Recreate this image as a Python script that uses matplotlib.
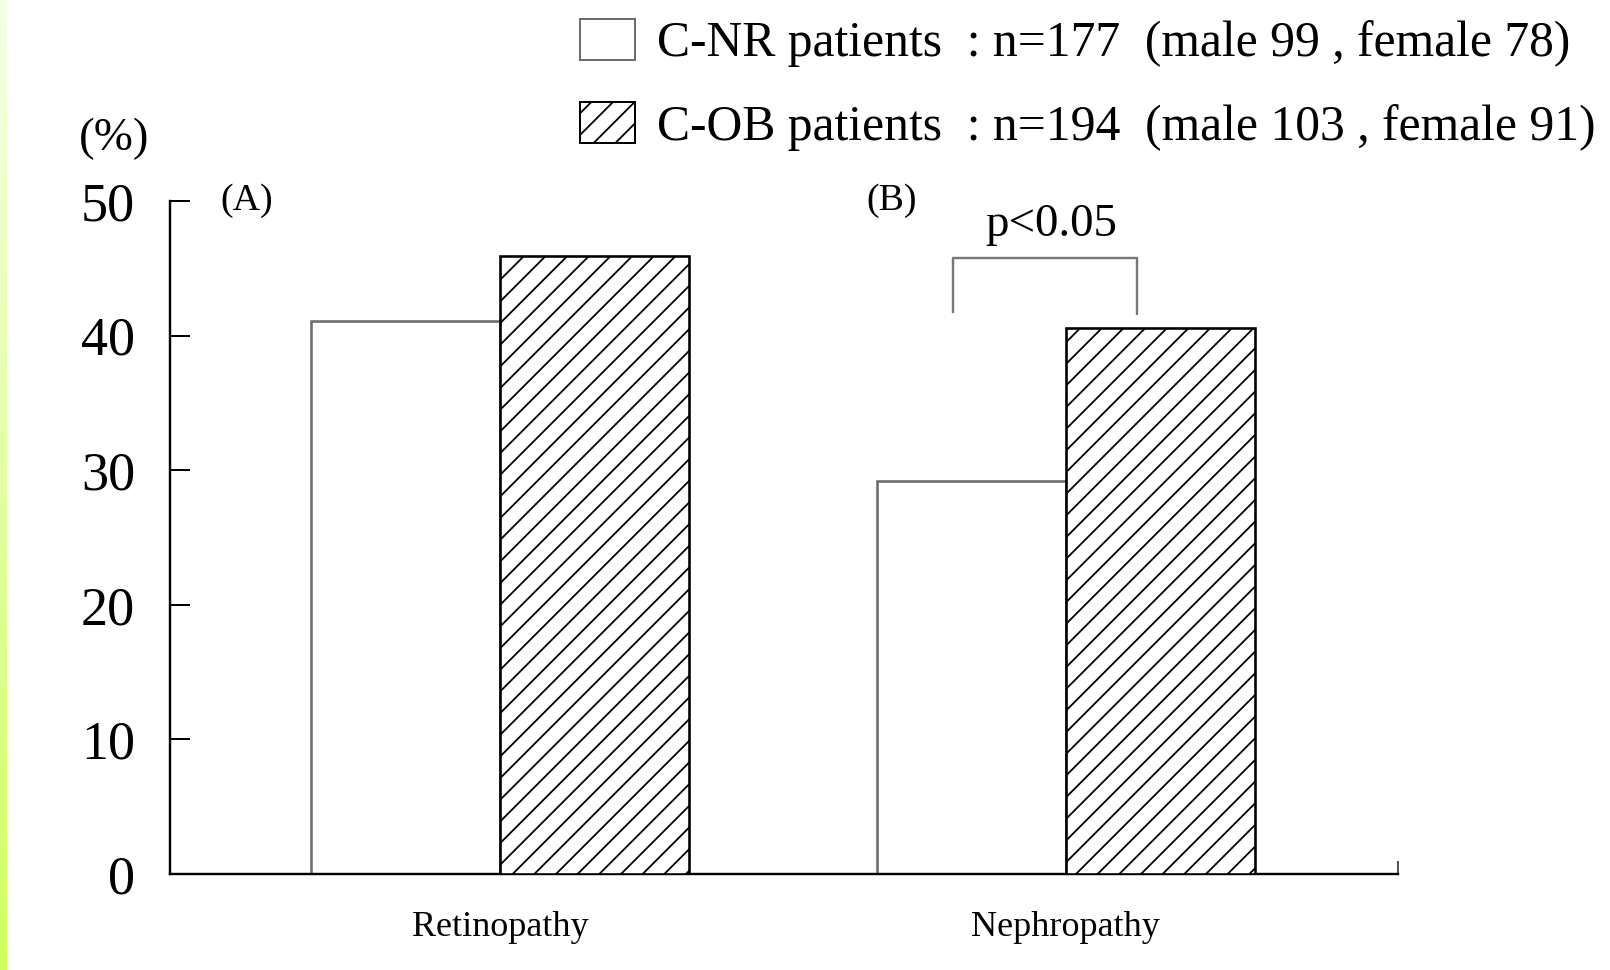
# Retinopathy / nephropathy prevalence, C-NR vs C-OB patients
import numpy as np
import matplotlib.pyplot as plt
from matplotlib.patches import Patch

plt.rcParams['font.family'] = ['Liberation Serif', 'DejaVu Serif']
plt.rcParams['hatch.linewidth'] = 1.0

# data
categories = ['Retinopathy', 'Nephropathy']
cnr_values = [41.1, 29.2]   # C-NR patients (%)
cob_values = [45.9, 40.6]   # C-OB patients (%)
series_labels = ['C-NR patients  : n=177  (male 99 , female 78)',
                 'C-OB patients  : n=194  (male 103 , female 91)']
panel_labels = ['(A)', '(B)']
y_ticks = [0, 10, 20, 30, 40, 50]
sig_text = 'p<0.05'

W, H = 1610, 970
dpi = 130
fig = plt.figure(figsize=(W / dpi, H / dpi), dpi=dpi)
px = 72 / dpi  # points per pixel

# green strip on the left edge
strip = fig.add_axes([0, 0, 7 / W, 1])
grad = np.linspace(0, 1, 256)[:, None]
top_c = np.array([0.96, 1.0, 0.90])
bot_c = np.array([0.82, 1.0, 0.38])
img = top_c + (bot_c - top_c) * grad
strip.imshow(img[:, None, :].repeat(2, axis=1), aspect='auto')
strip.axis('off')

# main axes, placed from pixel positions
x0, x1, y_top, y_bot = 170, 1398, 201, 874
ax = fig.add_axes([x0 / W, (H - y_bot) / H, (x1 - x0) / W, (y_bot - y_top) / H])

x = np.arange(len(categories))
width = 0.334
ax.bar(x - width / 2, cnr_values, width, color='white', edgecolor='#6e6e6e',
       linewidth=2 * px * 1.3, zorder=2)
ax.bar(x + width / 2, cob_values, width, color='white', edgecolor='black',
       hatch='//', linewidth=2 * px * 1.3, zorder=3)

ax.set_ylim(0, 50)
ax.set_xlim(-0.583, 1.587)
ax.set_yticks(y_ticks)
ax.tick_params(axis='y', direction='in', length=20 * px, width=2 * px,
               pad=35 * px, labelsize=30)
ax.set_xticks(x)
ax.set_xticklabels(categories)
ax.tick_params(axis='x', which='major', length=0, pad=37 * px, labelsize=20)
ax.set_xticks([1.587], minor=True)
ax.tick_params(axis='x', which='minor', direction='in', length=13 * px,
               width=2 * px, color='#555555')
for s in ['top', 'right']:
    ax.spines[s].set_visible(False)
for s in ['left', 'bottom']:
    ax.spines[s].set_linewidth(2 * px * 1.2)

# panel labels
ax.text(-0.583 + (247 - 170) / 566, 50, panel_labels[0], fontsize=21,
        ha='center', va='center')
ax.text(1 + (892 - 1066) / 566, 50, panel_labels[1], fontsize=21,
        ha='center', va='center')

# significance bracket
bx = [0.800, 0.800, 1.125, 1.125]
by = [41.7, 45.8, 45.8, 41.5]
ax.plot(bx, by, color='#777777', lw=2 * px * 1.2, solid_capstyle='butt')
ax.text(0.975, 48.2, sig_text, fontsize=26, ha='center', va='center')

# unit label
fig.text(114 / W, 1 - 139 / H, '(%)', fontsize=26, ha='center', va='center')

# legend
handles = [Patch(facecolor='white', edgecolor='#6e6e6e', linewidth=2 * px),
           Patch(facecolor='white', edgecolor='black', hatch='//', linewidth=2 * px)]
fig.legend(handles, series_labels, loc='upper left',
           bbox_to_anchor=(580 / W, 1 - 19 / H), frameon=False, fontsize=27.5,
           handlelength=1.1, handleheight=0.88, handletextpad=0.45,
           labelspacing=0.70, borderpad=0, borderaxespad=0)

fig.savefig('out.png', dpi=dpi)
